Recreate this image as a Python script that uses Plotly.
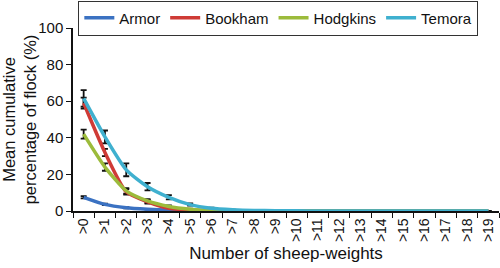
import plotly.graph_objects as go

categories = [">%d" % i for i in range(20)]

armor = [7.5, 3.6, 1.8, 1.0, 0.5, 0.3, 0.1, 0, 0, 0, 0, 0, 0, 0, 0, 0, 0, 0, 0, 0]
bookham = [59, 32, 10.5, 5.0, 1.5, 0.5, 0.2, 0.1, 0, 0, 0, 0, 0, 0, 0, 0, 0, 0, 0, 0]
hodgkins = [42, 24, 11, 5.5, 2.5, 1.0, 0.3, 0.1, 0, 0, 0, 0, 0, 0, 0, 0, 0, 0, 0, 0]
temora = [61.5, 40.5, 22.5, 13.3, 7.5, 3.5, 1.5, 0.7, 0.3, 0.2, 0.1, 0, 0, 0, 0, 0, 0, 0, 0, 0]

armor_err = [0.6, 0.4, 0.3, 0.2, 0.1, 0, 0, 0, 0, 0, 0, 0, 0, 0, 0, 0, 0, 0, 0, 0]
bookham_err = [3.0, 2.0, 1.5, 1.0, 0.5, 0.2, 0, 0, 0, 0, 0, 0, 0, 0, 0, 0, 0, 0, 0, 0]
hodgkins_err = [2.5, 2.0, 1.5, 1.0, 0.5, 0.3, 0, 0, 0, 0, 0, 0, 0, 0, 0, 0, 0, 0, 0, 0]
temora_err = [4.5, 3.5, 3.5, 2.0, 1.2, 0.6, 0.3, 0, 0, 0, 0, 0, 0, 0, 0, 0, 0, 0, 0, 0]

series = [
    ("Armor", armor, armor_err, "#3b72c2"),
    ("Bookham", bookham, bookham_err, "#cf3b36"),
    ("Hodgkins", hodgkins, hodgkins_err, "#9cbb3b"),
    ("Temora", temora, temora_err, "#3fb0cf"),
]

font = "Liberation Sans, Arial, sans-serif"

fig = go.Figure()
for name, vals, errs, col in series:
    fig.add_trace(go.Scatter(
        x=categories, y=vals, mode="markers", marker=dict(size=0.1, color="rgba(0,0,0,0)"),
        error_y=dict(type="data", array=errs, visible=True, color="#111111", thickness=1.8, width=3),
        showlegend=False, hoverinfo="skip"))
for name, vals, errs, col in series:
    fig.add_trace(go.Scatter(
        x=categories, y=vals, mode="lines", name=name,
        line=dict(color=col, width=3.5, shape="spline", smoothing=0.6)))

fig.update_layout(
    width=500, height=268,
    margin=dict(l=73, r=1, t=28, b=57, autoexpand=False),
    paper_bgcolor="white", plot_bgcolor="white",
    font=dict(family=font, size=14, color="#111111"),
    showlegend=True,
    legend=dict(orientation="h", x=0.482, xanchor="center", y=1.15, yanchor="top",
                bordercolor="#333333", borderwidth=1, font=dict(size=15),
                itemwidth=30, tracegroupgap=0, bgcolor="white"),
    xaxis=dict(
        type="category", range=[-0.5, 19.5], showline=True, linecolor="#111111", linewidth=1.5,
        ticks="outside", tickson="boundaries", ticklen=5, tickcolor="#111111", automargin=False,
        tickangle=-90, tickfont=dict(size=14), showgrid=False, zeroline=False,
        title=dict(text="Number of sheep-weights", font=dict(size=17), standoff=6)),
    yaxis=dict(
        range=[0, 100], tickvals=[0, 20, 40, 60, 80, 100], showline=True, linecolor="#111111",
        linewidth=1.5, ticks="outside", ticklen=5, tickcolor="#111111", showgrid=False,
        zeroline=False, tickfont=dict(size=15), automargin=False,
        title=dict(text="Mean cumulative<br>percentage of flock (%)", font=dict(size=16.5), standoff=4)),
)

fig.write_html("out.html", config={"displayModeBar": False},
               post_script="document.body.style.margin='0';document.body.style.overflow='hidden';")
